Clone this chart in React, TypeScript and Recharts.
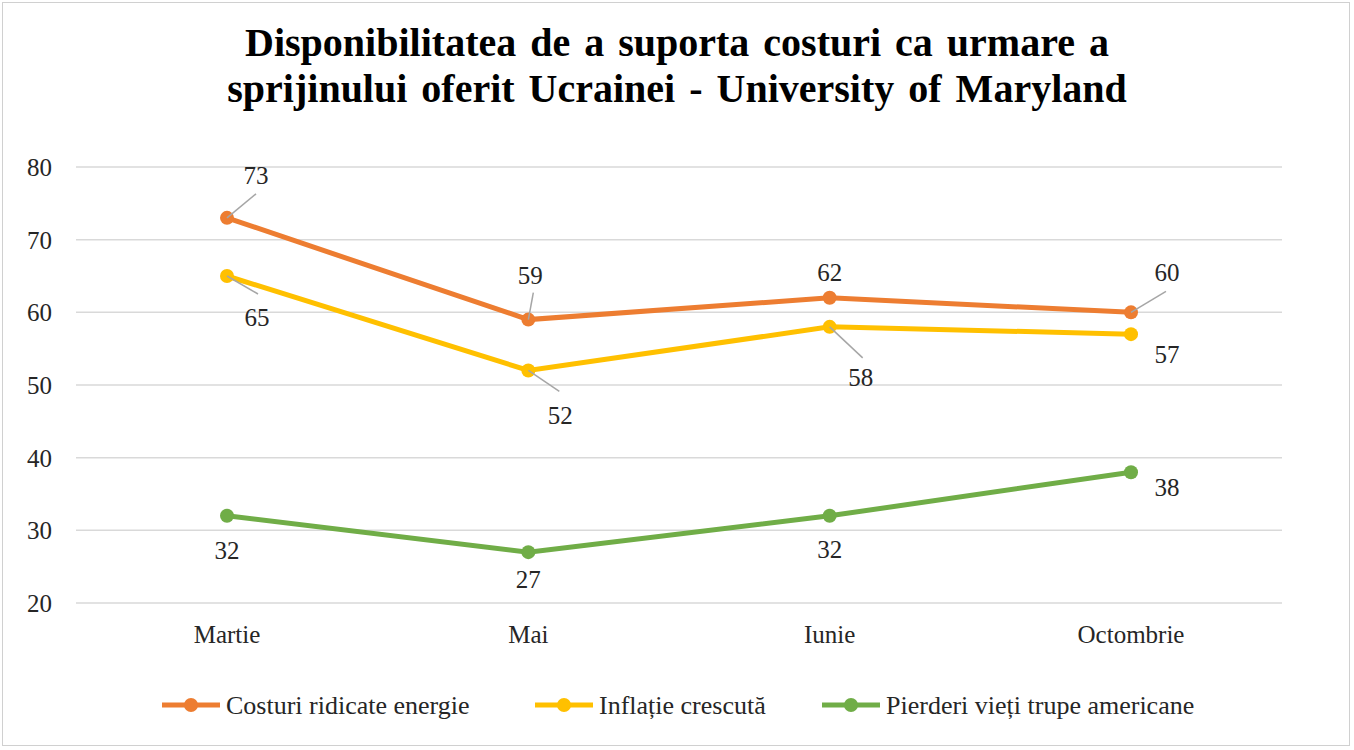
import React from "react";
import { CartesianGrid, LineChart, Line, XAxis, YAxis } from "recharts";

const months = ["Martie", "Mai", "Iunie", "Octombrie"];
const energie = [73, 59, 62, 60];
const inflatie = [65, 52, 58, 57];
const trupe = [32, 27, 32, 38];
const yTicks = [20, 30, 40, 50, 60, 70, 80];

const data = months.map((m, i) => ({
  month: m,
  energie: energie[i],
  inflatie: inflatie[i],
  trupe: trupe[i],
}));

const FONT = '"Liberation Serif", "Times New Roman", serif';

// label placement per point: text offset [dx, dy], optional leader end [lx, ly]
type Place = { d: [number, number]; l?: [number, number] };
const labelPos: Record<string, Place[]> = {
  energie: [
    { d: [29, -42], l: [29, -24] },
    { d: [2, -44], l: [5, -27] },
    { d: [0, -25] },
    { d: [36, -40], l: [35, -21] },
  ],
  inflatie: [
    { d: [30, 41], l: [31, 18] },
    { d: [32, 45], l: [31, 21] },
    { d: [31, 51], l: [33, 31] },
    { d: [36, 20] },
  ],
  trupe: [
    { d: [0, 35] },
    { d: [0, 27] },
    { d: [0, 34] },
    { d: [36, 15] },
  ],
};

const series = [
  { key: "energie", name: "Costuri ridicate energie", color: "#ED7D31" },
  { key: "inflatie", name: "Inflație  crescută", color: "#FFC000" },
  { key: "trupe", name: "Pierderi vieți trupe americane", color: "#70AD47" },
];

const legendStart = [162, 535, 822];

function makeLabel(key: string) {
  return (props: any) => {
    const { x, y, value, index } = props;
    const p = labelPos[key][index];
    return (
      <g>
        {p.l && (
          <line
            x1={x}
            y1={y}
            x2={x + p.l[0]}
            y2={y + p.l[1]}
            stroke="#A6A6A6"
            strokeWidth={1.5}
          />
        )}
        <text
          x={x + p.d[0]}
          y={y + p.d[1]}
          textAnchor="middle"
          dominantBaseline="central"
          style={{ fontFamily: FONT, fontSize: 25 }}
          fill="#262626"
        >
          {value}
        </text>
      </g>
    );
  };
}

export default function App() {
  return (
    <div
      style={{
        position: "absolute",
        left: 0,
        top: 0,
        width: 1354,
        height: 750,
        background: "#fff",
      }}
    >
      <div
        style={{
          position: "absolute",
          left: 2,
          top: 2,
          width: 1348,
          height: 744,
          border: "1.5px solid #D0D0D0",
          boxSizing: "border-box",
        }}
      />
      <div
        style={{
          position: "absolute",
          left: 0,
          top: 20,
          width: 1354,
          textAlign: "center",
          fontFamily: FONT,
          fontWeight: "bold",
          fontSize: 40,
          lineHeight: "46px",
          wordSpacing: 4,
          color: "#000",
        }}
      >
        Disponibilitatea de a suporta costuri ca urmare a
        <br />
        sprijinului oferit Ucrainei - University of Maryland
      </div>
      <div style={{ position: "absolute", left: 0, top: 0 }}>
        <LineChart
          width={1354}
          height={750}
          data={data}
          margin={{ top: 167, right: 72, bottom: 107, left: 0 }}
        >
          <CartesianGrid vertical={false} stroke="#D9D9D9" strokeWidth={1.5} />
          <XAxis
            dataKey="month"
            axisLine={false}
            tickLine={false}
            tickSize={0}
            tickMargin={22}
            height={40}
            padding={{ left: 151, right: 151 }}
            tick={{ fontFamily: FONT, fontSize: 25, fill: "#262626" }}
            interval={0}
          />
          <YAxis
            domain={[20, 80]}
            ticks={yTicks}
            width={76}
            axisLine={false}
            tickLine={false}
            tickSize={0}
            tickMargin={24}
            tick={{ fontFamily: FONT, fontSize: 25, fill: "#262626" }}
          />
          {series.map((s) => (
            <Line
              key={s.key}
              dataKey={s.key}
              name={s.name}
              stroke={s.color}
              strokeWidth={5}
              dot={{ r: 7, fill: s.color, stroke: s.color, strokeWidth: 0 }}
              label={makeLabel(s.key)}
              isAnimationActive={false}
            />
          ))}
        </LineChart>
      </div>
      <svg
        width={1354}
        height={60}
        style={{ position: "absolute", left: 0, top: 676 }}
      >
        {series.map((s, i) => {
          const x0 = legendStart[i];
          return (
            <g key={s.key}>
              <line x1={x0} y1={29} x2={x0 + 58} y2={29} stroke={s.color} strokeWidth={5} />
              <circle cx={x0 + 29} cy={29} r={7} fill={s.color} />
              <text
                x={x0 + 64}
                y={29}
                dominantBaseline="central"
                style={{ fontFamily: FONT, fontSize: 26 }}
                fill="#262626"
              >
                {s.name}
              </text>
            </g>
          );
        })}
      </svg>
    </div>
  );
}
